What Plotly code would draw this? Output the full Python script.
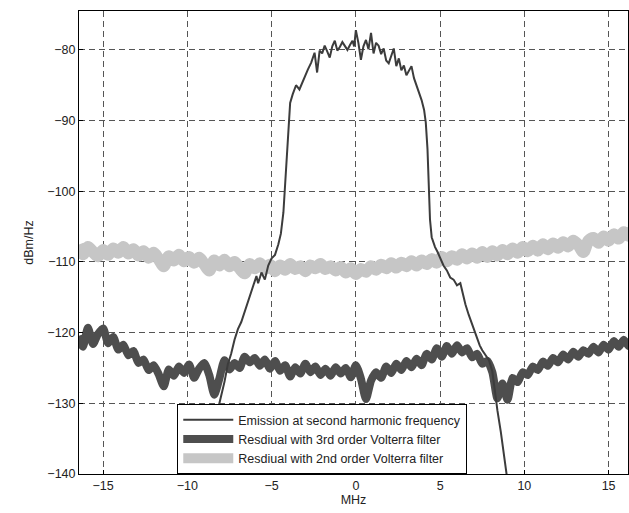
import plotly.graph_objects as go

# Frequency grid (MHz) for the residual curves
freq_resid = [-16.5, -16.2, -15.9, -15.6, -15.3, -15.0, -14.7, -14.4, -14.1, -13.8,
              -13.5, -13.2, -12.9, -12.6, -12.3, -12.0, -11.7, -11.4, -11.1, -10.8,
              -10.5, -10.2, -9.9, -9.6, -9.3, -9.0, -8.7, -8.4, -8.1, -7.8,
              -7.5, -7.2, -6.9, -6.6, -6.3, -6.0, -5.7, -5.4, -5.1, -4.8,
              -4.5, -4.2, -3.9, -3.6, -3.3, -3.0, -2.7, -2.4, -2.1, -1.8,
              -1.5, -1.2, -0.9, -0.6, -0.3, 0.0, 0.3, 0.6, 0.9, 1.2,
              1.5, 1.8, 2.1, 2.4, 2.7, 3.0, 3.3, 3.6, 3.9, 4.2,
              4.5, 4.8, 5.1, 5.4, 5.7, 6.0, 6.3, 6.6, 6.9, 7.2,
              7.5, 7.8, 8.1, 8.4, 8.7, 9.0, 9.3, 9.6, 9.9, 10.2,
              10.5, 10.8, 11.1, 11.4, 11.7, 12.0, 12.3, 12.6, 12.9, 13.2,
              13.5, 13.8, 14.1, 14.4, 14.7, 15.0, 15.3, 15.6, 15.9, 16.2, 16.5]

resid_2nd = [-107.6, -108.9, -107.9, -108.6, -109.2, -108.3, -109.0, -108.1, -108.7, -107.9,
             -108.8, -108.2, -109.1, -108.5, -109.4, -108.7, -109.6, -110.6, -109.2, -109.8,
             -109.0, -109.9, -109.3, -110.1, -109.4, -110.3, -111.2, -109.8, -110.5, -109.7,
             -110.6, -110.0, -110.9, -111.6, -110.3, -110.9, -110.2, -111.0, -110.4, -111.3,
             -110.5, -111.1, -110.3, -111.0, -110.6, -111.3, -110.5, -110.9, -110.3, -111.0,
             -110.6, -111.2, -110.7, -111.5, -110.9, -111.7, -111.0, -111.4, -110.6, -111.1,
             -110.4, -110.9, -110.2, -110.8, -110.1, -110.6, -109.9, -110.5, -109.8, -110.3,
             -109.6, -110.1, -109.3, -109.9, -109.2, -109.7, -108.9, -109.5, -108.8, -109.4,
             -108.6, -109.3, -108.5, -109.1, -108.3, -108.9, -108.1, -108.7, -107.9, -108.5,
             -107.7, -108.4, -107.5, -108.2, -107.4, -108.0, -107.2, -107.8, -107.0, -107.6,
             -108.6, -107.0, -106.6, -107.3, -106.4, -107.0, -106.1, -106.7, -105.8, -106.3, -105.2]

resid_3rd = [-120.5, -122.0, -119.3, -121.6, -120.2, -119.4, -121.5, -120.6, -122.4, -121.7,
             -123.2, -122.6, -124.3, -123.8, -125.3, -124.6, -125.9, -127.6, -125.2, -126.1,
             -124.8, -125.7, -124.5, -126.4, -125.1, -124.3, -126.0, -128.8, -126.5, -123.9,
             -125.2, -124.3, -125.0, -123.4, -124.2, -123.6, -124.7, -123.8, -125.1, -124.0,
             -125.4, -124.6, -126.2, -124.9, -125.8, -124.4, -125.6, -124.8, -126.0, -125.1,
             -126.1, -124.9, -125.8, -125.0, -126.3, -124.6, -126.5, -129.4, -126.8, -125.6,
             -126.4, -124.8, -125.7, -124.4, -125.3, -124.0, -124.9, -123.7, -124.6, -123.0,
             -123.8, -122.2, -123.4, -121.9, -123.0, -121.8, -122.8, -122.2, -123.5, -123.0,
             -124.4, -124.0, -125.6, -129.3, -127.2, -129.5, -126.4, -127.0, -125.6, -126.0,
             -124.8, -125.3, -124.1, -124.7, -123.6, -124.2, -123.1, -123.8, -122.7, -123.4,
             -122.5, -123.0, -122.0, -122.8, -121.7, -122.4, -121.2, -122.0, -121.0, -121.9, -121.3]

# Emission at second harmonic frequency
freq_emis = [-9.0, -8.6, -8.3, -8.0, -7.8, -7.6, -7.4, -7.2, -7.0, -6.8,
             -6.6, -6.4, -6.2, -6.0, -5.9, -5.8, -5.6, -5.4, -5.2, -5.0,
             -4.8, -4.6, -4.45, -4.3, -4.2, -4.1, -4.0, -3.9, -3.75, -3.55,
             -3.35, -3.15, -3.0, -2.85, -2.65, -2.45, -2.3, -2.15, -2.0, -1.85,
             -1.7, -1.55, -1.4, -1.25, -1.1, -0.95, -0.8, -0.65, -0.5, -0.35,
             -0.2, -0.1, 0.0, 0.15, 0.3, 0.45, 0.6, 0.75, 0.9, 1.05,
             1.2, 1.35, 1.5, 1.65, 1.8, 1.95, 2.1, 2.25, 2.4, 2.55,
             2.7, 2.85, 3.0, 3.15, 3.3, 3.45, 3.6, 3.75, 3.9, 4.05,
             4.15, 4.25, 4.3, 4.35, 4.4, 4.5, 4.7, 4.85, 5.0, 5.2,
             5.4, 5.6, 5.8, 6.0, 6.2, 6.35, 6.5, 6.7, 6.85, 7.0,
             7.2, 7.35, 7.5, 7.7, 7.9, 8.1, 8.25, 8.4, 8.6, 8.8, 9.0]

emission = [-141.0, -136.0, -132.0, -129.0, -127.0, -124.5, -123.0, -121.0, -119.5, -118.5,
            -117.0, -115.5, -114.0, -112.5, -112.0, -113.0, -111.5, -112.5, -110.5, -109.5,
            -109.0, -107.5, -106.0, -103.0, -99.0, -94.0, -90.0, -87.5, -86.3, -85.0,
            -85.6, -84.4, -83.5, -82.8, -81.8, -80.4, -83.2, -80.1, -80.5, -79.4,
            -80.2, -81.1, -79.5, -78.7, -80.1, -79.6, -78.9, -79.4, -80.0, -79.3,
            -78.7, -79.5, -77.2, -79.0, -81.4, -79.5, -78.6, -79.9, -77.6, -80.5,
            -79.0, -79.4, -80.6, -79.8, -81.5, -81.9, -80.8, -79.8, -82.3, -81.2,
            -82.9, -82.2, -83.6, -83.0, -82.3, -84.0, -85.0, -86.3, -87.1, -88.5,
            -90.3, -94.0, -97.0, -101.0, -104.0, -106.5, -107.9, -108.6, -109.5, -110.5,
            -111.2, -112.2, -112.5, -113.3, -113.0, -114.5, -116.0, -117.5, -118.5, -119.3,
            -120.6, -121.8, -122.5, -123.2, -123.9, -125.5, -128.5, -131.0, -134.0, -138.0, -141.0]

x_ticks = [-15, -10, -5, 0, 5, 10, 15]
y_ticks = [-140, -130, -120, -110, -100, -90, -80]

fig = go.Figure()
fig.add_trace(go.Scatter(x=freq_resid, y=resid_2nd, mode="lines",
                         name="Resdiual with 2nd order Volterra filter",
                         line=dict(color="#c6c6c6", width=12, shape="spline", smoothing=0.8)))
fig.add_trace(go.Scatter(x=freq_resid, y=resid_3rd, mode="lines",
                         name="Resdiual with 3rd order Volterra filter",
                         line=dict(color="#4e4e4e", width=8, shape="spline", smoothing=0.6)))
fig.add_trace(go.Scatter(x=freq_emis, y=emission, mode="lines",
                         name="Emission at second harmonic frequency",
                         line=dict(color="#3c3c3c", width=2)))

font = "Liberation Sans, Arial, Helvetica, sans-serif"
axis_common = dict(showline=True, linecolor="#000", linewidth=1, mirror=True,
                   ticks="inside", ticklen=4, tickcolor="#000",
                   showgrid=True, gridcolor="#555", gridwidth=1, griddash="6px,4px",
                   zeroline=False, tickfont=dict(size=12.5, color="#222"))

fig.update_layout(
    width=629, height=513,
    margin=dict(l=79, r=1, t=11, b=39),
    paper_bgcolor="white", plot_bgcolor="white",
    font=dict(family=font, size=12.5, color="#222"),
    xaxis=dict(range=[-16.43, 16.15], tickvals=x_ticks,
               title=dict(text="MHz", font=dict(size=12.5), standoff=3), **axis_common),
    yaxis=dict(range=[-140, -74.5], tickvals=y_ticks,
               title=dict(text="dBm/Hz", font=dict(size=12.5), standoff=10), **axis_common),
    legend=dict(x=0.179, y=0.0, xanchor="left", yanchor="bottom",
                traceorder="reversed", bgcolor="white", bordercolor="#000", borderwidth=1,
                font=dict(size=12.5, color="#222"), itemwidth=50),
    showlegend=True,
)

fig.write_html("out.html")
